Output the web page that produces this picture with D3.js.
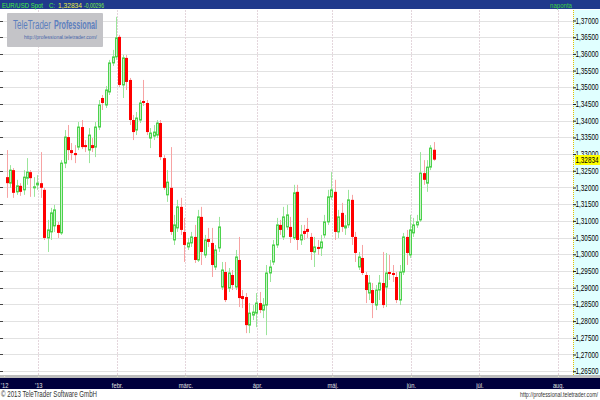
<!DOCTYPE html>
<html><head><meta charset="utf-8">
<script src="https://cdn.jsdelivr.net/npm/d3@7"></script>
<style>body{margin:0;background:#fff}svg{display:block}text{font-family:"Liberation Sans",Arial,sans-serif}</style>
</head><body>
<svg id="c" width="600" height="400"></svg>
<script>
// ---- data ----
const startDate = "2012-12-19"; // first candle, one candle per weekday
const opens  = [1.3231,1.3213,1.3252,1.3187,1.3205,1.3193,1.3228,1.3246,1.3199,1.3208,1.3213,1.3193,1.3049,1.3067,1.3085,1.3088,1.3064,1.3273,1.3351,1.3312,1.3303,1.3321,1.3381,1.3327,1.3312,1.3327,1.3321,1.3381,1.3468,1.3447,1.3486,1.3573,1.3591,1.3651,1.3507,1.3588,1.3522,1.3402,1.3372,1.3402,1.3459,1.3453,1.3348,1.3354,1.3357,1.3393,1.3288,1.3178,1.3199,1.3043,1.3079,1.3142,1.3067,1.3022,1.3034,1.3052,1.2983,1.3112,1.2998,1.3046,1.3034,1.2962,1.3019,1.2902,1.2947,1.2899,1.2938,1.2902,1.2983,1.2875,1.2872,1.2788,1.2818,1.2824,1.2854,1.2833,1.2848,1.2944,1.2977,1.3028,1.3088,1.3052,1.3082,1.3082,1.3049,1.3187,1.3043,1.3070,1.3076,1.3052,1.3007,1.3022,1.3019,1.3058,1.3097,1.3172,1.3187,1.3067,1.3124,1.3079,1.3088,1.3163,1.3052,1.2962,1.2989,1.2938,1.2884,1.2893,1.2848,1.2893,1.2914,1.2902,1.2947,1.2944,1.2932,1.2863,1.2947,1.3052,1.2998,1.3064,1.3088,1.3103,1.3243,1.3213,1.3261,1.3313];
const highs  = [1.3312,1.3267,1.3258,1.3223,1.3213,1.3252,1.3288,1.3252,1.3231,1.3237,1.3306,1.3199,1.3103,1.3139,1.3148,1.3097,1.3282,1.3372,1.3387,1.3333,1.3327,1.3396,1.3402,1.3342,1.3378,1.3348,1.3396,1.3462,1.3477,1.3504,1.3582,1.3612,1.3711,1.3657,1.3597,1.3597,1.3528,1.3417,1.3426,1.3462,1.3522,1.3462,1.3378,1.3387,1.3402,1.3402,1.3297,1.3252,1.3321,1.3118,1.3163,1.3169,1.3109,1.3049,1.3067,1.3088,1.3133,1.3142,1.3058,1.3079,1.3079,1.3028,1.3112,1.2977,1.2977,1.2959,1.2953,1.3013,1.3052,1.2893,1.2884,1.2854,1.2848,1.2884,1.2887,1.2869,1.2968,1.2983,1.3043,1.3109,1.3103,1.3142,1.3148,1.3112,1.3208,1.3208,1.3088,1.3088,1.3109,1.3064,1.3052,1.3043,1.3058,1.3118,1.3193,1.3246,1.3223,1.3133,1.3154,1.3118,1.3193,1.3178,1.3067,1.3007,1.3028,1.2947,1.2938,1.2914,1.2908,1.2938,1.3007,1.3004,1.2998,1.2968,1.2947,1.2968,1.3064,1.3073,1.3118,1.3109,1.3118,1.3306,1.3282,1.3282,1.3327,1.3336];
const lows   = [1.3169,1.3199,1.3169,1.3178,1.3175,1.3178,1.3208,1.3172,1.3172,1.3193,1.3169,1.3043,1.3007,1.3043,1.3067,1.3049,1.3058,1.3258,1.3282,1.3282,1.3273,1.3312,1.3315,1.3306,1.3273,1.3306,1.3291,1.3372,1.3432,1.3438,1.3477,1.3564,1.3582,1.3501,1.3468,1.3492,1.3387,1.3342,1.3357,1.3393,1.3444,1.3357,1.3318,1.3342,1.3348,1.3282,1.3193,1.3157,1.3058,1.3028,1.3067,1.3058,1.2977,1.3013,1.3022,1.2974,1.2977,1.2968,1.2989,1.3022,1.2932,1.2953,1.3007,1.2893,1.2857,1.2887,1.2893,1.2893,1.2842,1.2839,1.2764,1.2764,1.2803,1.2782,1.2824,1.2809,1.2758,1.2917,1.2968,1.3019,1.3058,1.3043,1.3073,1.3034,1.3043,1.3013,1.3028,1.3043,1.3049,1.2983,1.2962,1.2998,1.2995,1.3049,1.3088,1.3163,1.3043,1.3049,1.3067,1.3058,1.3079,1.3028,1.2977,1.2953,1.2938,1.2854,1.2863,1.2809,1.2833,1.2863,1.2839,1.2842,1.2923,1.2917,1.2854,1.2848,1.2938,1.2968,1.2989,1.3052,1.3079,1.3097,1.3208,1.3187,1.3252,1.3280];
const closes = [1.3213,1.3252,1.3184,1.3205,1.3187,1.3231,1.3246,1.3228,1.3202,1.3213,1.3199,1.3049,1.3073,1.3124,1.3133,1.3064,1.3273,1.3351,1.3312,1.3303,1.3297,1.3381,1.3321,1.3321,1.3357,1.3318,1.3381,1.3447,1.3453,1.3492,1.3573,1.3591,1.3648,1.3507,1.3588,1.3516,1.3402,1.3366,1.3408,1.3453,1.3453,1.3366,1.3363,1.3366,1.3393,1.3291,1.3199,1.3216,1.3067,1.3088,1.3142,1.3073,1.3028,1.3034,1.3052,1.2983,1.3112,1.3007,1.3043,1.3037,1.2968,1.3013,1.3082,1.2953,1.2863,1.2944,1.2908,1.2992,1.2869,1.2866,1.2788,1.2824,1.2827,1.2854,1.2833,1.2848,1.2944,1.2962,1.3028,1.3088,1.3073,1.3112,1.3118,1.3052,1.3184,1.3043,1.3058,1.3061,1.3067,1.3007,1.3022,1.3016,1.3037,1.3097,1.3172,1.3193,1.3067,1.3112,1.3082,1.3085,1.3163,1.3052,1.3004,1.2992,1.2944,1.2893,1.2914,1.2854,1.2893,1.2914,1.2848,1.2944,1.2941,1.2938,1.2863,1.2947,1.3052,1.3004,1.3073,1.3088,1.3097,1.3243,1.3223,1.3261,1.3318,1.32834];
const lastClose = 1.32834, change = -0.00296;
const priceTicks = d3.range(0, 22).map(i => +(1.265 + i * 0.005).toFixed(3));
const monthDates  = ["2012-12-18","2013-01-01","2013-02-01","2013-03-01","2013-04-01","2013-05-01","2013-06-03","2013-07-01","2013-08-01"];
const monthLabels = ["'12","'13","febr.","márc.","ápr.","máj.","jún.","júl.","aug."];

// ---- helpers ----
const parse = d3.utcParse("%Y-%m-%d");
const origin = parse("2013-01-01");
function weekdayIndex(d){ // weekdays counted from 2013-01-01
  let n = 0, t = new Date(origin), step = d >= origin ? 1 : -1;
  while ((step > 0 && t < d) || (step < 0 && t > d)) {
    const dow = t.getUTCDay();
    if (step > 0 && dow !== 0 && dow !== 6) n++;
    t = d3.utcDay.offset(t, step);
    if (step < 0 && t.getUTCDay() !== 0 && t.getUTCDay() !== 6) n--;
  }
  return n;
}
const candles = [];
let day = parse(startDate);
for (let i = 0; i < closes.length; i++) {
  while (day.getUTCDay() === 0 || day.getUTCDay() === 6) day = d3.utcDay.offset(day, 1);
  candles.push({k: weekdayIndex(day), o: opens[i], h: highs[i], l: lows[i], c: closes[i]});
  day = d3.utcDay.offset(day, 1);
}
const fmt = v => d3.format(".5f")(v).replace(".", ",").replace("\u2212", "-");
function squeeze(sel, f){ sel.each(function(){ const L = this.getComputedTextLength(); this.setAttribute("textLength", (L * f).toFixed(1)); this.setAttribute("lengthAdjust", "spacingAndGlyphs"); }); }

// ---- layout ----
const svg = d3.select("#c");
const W = 600, H = 400, plotR = 573, plotT = 10, plotB = 375;
const x = d3.scaleLinear().domain([0, 152]).range([37.3, 37.3 + 152 * 3.419]);
const y = d3.scaleLinear().domain([1.265, 1.37]).range([371.2, 20.5]);

svg.append("rect").attr("width", W).attr("height", H).attr("fill", "#fff");

svg.append("g").selectAll("line").data(priceTicks).join("line")
  .attr("x1", 0).attr("x2", plotR).attr("y1", d => Math.round(y(d)) + 0.5).attr("y2", d => Math.round(y(d)) + 0.5)
  .attr("stroke", "#e2e2e2").attr("stroke-width", 1.2);
svg.append("g").selectAll("line").data(priceTicks).join("line")
  .attr("x1", 0).attr("x2", 3).attr("y1", d => Math.round(y(d)) + 0.5).attr("y2", d => Math.round(y(d)) + 0.5)
  .attr("stroke", "#444");
const monthK = monthDates.map(s => weekdayIndex(parse(s)));
svg.append("g").selectAll("line").data(monthK.slice(1)).join("line")
  .attr("x1", d => Math.round(x(d)) + 1.5).attr("x2", d => Math.round(x(d)) + 1.5)
  .attr("y1", plotT).attr("y2", plotB)
  .attr("stroke", "#e4d6dc").attr("stroke-dasharray", "2,1");

// logo box
const logo = svg.append("g");
logo.append("rect").attr("x", 7).attr("y", 13).attr("width", 96).attr("height", 34).attr("rx", 1)
  .attr("fill", "#c4c4c8");
const lt = logo.append("text").attr("y", 29).attr("font-size", 12);
lt.append("tspan").attr("x", 13).attr("fill", "#5d7fbe").attr("textLength", 38).attr("lengthAdjust", "spacingAndGlyphs").text("TeleTrader");
lt.append("tspan").attr("x", 54).attr("fill", "#5d7fbe").attr("font-weight", "bold").attr("textLength", 43).attr("lengthAdjust", "spacingAndGlyphs").text("Professional");
logo.append("text").attr("x", 24).attr("y", 38.5)
  .attr("font-size", 6).attr("fill", "#4a66a8").attr("textLength", 73).attr("lengthAdjust", "spacingAndGlyphs")
  .text("http://professional.teletrader.com/");

// candles
const g = svg.append("g");
candles.forEach(d => {
  const cx = Math.round(x(d.k));
  const up = d.c >= d.o;
  g.append("line").attr("x1", cx + 0.5).attr("x2", cx + 0.5)
    .attr("y1", y(d.h)).attr("y2", y(d.l))
    .attr("stroke", up ? "#9be59b" : "#f7a3a3").attr("stroke-width", 1);
  const top = y(Math.max(d.o, d.c)), bot = y(Math.min(d.o, d.c));
  if (up) {
    g.append("rect").attr("x", cx - 0.5).attr("y", top).attr("width", 2).attr("height", Math.max(bot - top, 1))
      .attr("fill", "#c8f2c8").attr("stroke", "#4cd24c").attr("stroke-width", 1);
  } else {
    g.append("rect").attr("x", cx - 1).attr("y", top).attr("width", 3).attr("height", Math.max(bot - top, 1.5))
      .attr("fill", "#ff0000");
  }
});

// right axis panel
svg.append("rect").attr("x", plotR).attr("y", plotT).attr("width", W - plotR).attr("height", plotB - plotT + 2).attr("fill", "#e0ffff");
svg.append("line").attr("x1", plotR + 0.5).attr("x2", plotR + 0.5).attr("y1", plotT).attr("y2", plotB + 2)
  .attr("stroke", "#e8c000").attr("stroke-dasharray", "1,1");
const yAxis = d3.axisRight(y).tickValues(priceTicks).tickFormat(fmt).tickSize(3).tickPadding(0);
const ya = svg.append("g").attr("transform", `translate(${plotR},0)`).call(yAxis);
ya.select(".domain").remove();
ya.selectAll("line").attr("stroke", "#222");
ya.selectAll("text").attr("font-size", 8.5).attr("fill", "#000").attr("x", 2.5).attr("dy", "0.3em")
  .attr("textLength", 23).attr("lengthAdjust", "spacingAndGlyphs");
const ly = Math.round(y(lastClose));
svg.append("rect").attr("x", plotR + 2).attr("y", ly - 5).attr("width", 25).attr("height", 10).attr("fill", "#ffff00");
svg.append("text").attr("x", plotR + 2.5).attr("y", ly + 3).attr("font-size", 8.5).attr("fill", "#000")
  .attr("textLength", 23).attr("lengthAdjust", "spacingAndGlyphs").text(fmt(lastClose));

// header bar
svg.append("rect").attr("x", 0).attr("y", 0).attr("width", W).attr("height", 9).attr("fill", "#203a8c");
const hdr = [["EUR/USD Spot", 2, 41, "#44ee44"], ["C:", 49, 6, "#44ee44"], [fmt(lastClose), 58, 24, "#e8f040"], [fmt(change), 84, 20, "#7cf040"]];
svg.append("g").selectAll("text").data(hdr).join("text")
  .attr("x", d => d[1]).attr("y", 7.5).attr("font-size", 8).attr("fill", d => d[3])
  .attr("textLength", d => d[2]).attr("lengthAdjust", "spacingAndGlyphs").text(d => d[0]);
svg.append("text").attr("x", 550).attr("y", 7.5).attr("font-size", 8).attr("fill", "#3cd23c")
  .attr("textLength", 22).attr("lengthAdjust", "spacingAndGlyphs").text("naponta");

// bottom axis
svg.append("rect").attr("x", 0).attr("y", plotB).attr("width", W).attr("height", 3).attr("fill", "#bdbdbd");
svg.append("rect").attr("x", 0).attr("y", plotB + 3).attr("width", W).attr("height", 11).attr("fill", "#00003c");
const xAxis = d3.axisBottom(x).tickValues(monthK).tickFormat((d, i) => monthLabels[i]).tickSize(1).tickPadding(5);
const xa = svg.append("g").attr("transform", `translate(1,${plotB + 1})`).call(xAxis);
xa.select(".domain").remove();
xa.selectAll("line").attr("stroke", "#e6e6c8");
xa.selectAll("text").attr("font-size", 8).attr("fill", "#e0e0e0");
squeeze(xa.selectAll("text"), 0.72);

// footer
svg.append("text").attr("x", 1).attr("y", 397).attr("font-size", 8.5).attr("fill", "#333")
  .attr("textLength", 96).attr("lengthAdjust", "spacingAndGlyphs").text("© 2013 TeleTrader Software GmbH");
svg.append("text").attr("x", 520).attr("y", 397).attr("font-size", 7).attr("fill", "#333")
  .attr("textLength", 78).attr("lengthAdjust", "spacingAndGlyphs").text("http://professional.teletrader.com/");
</script>
</body></html>
